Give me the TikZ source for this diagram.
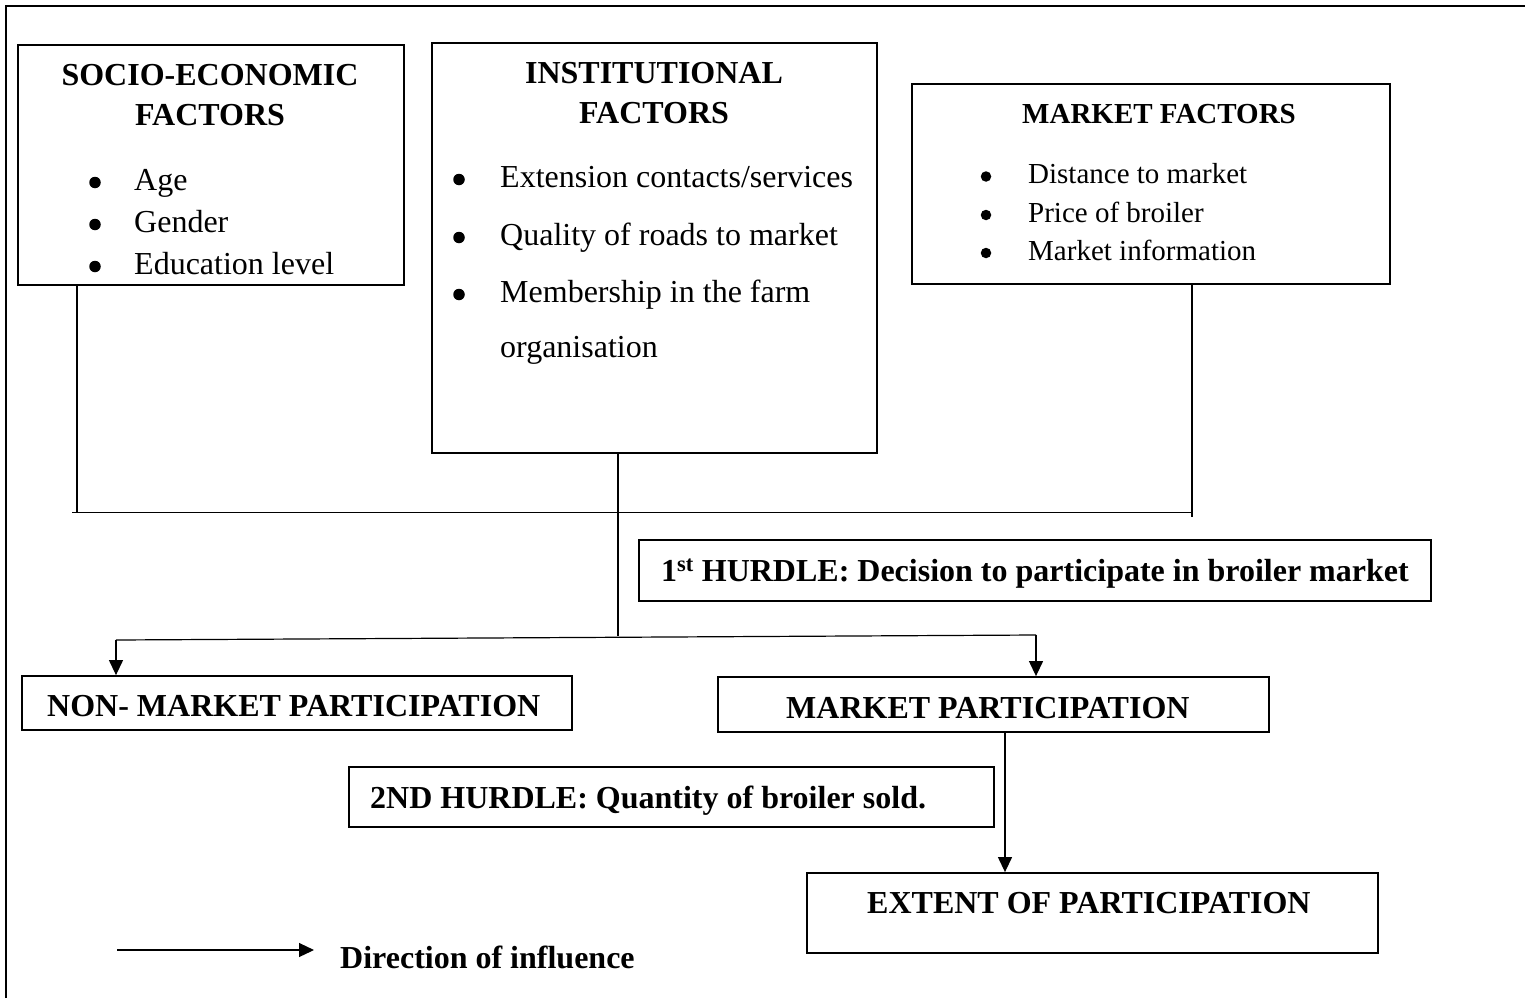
\documentclass[tikz,border=0pt]{standalone}
\usepackage{fontspec}
\setmainfont{Liberation Serif}
\usetikzlibrary{arrows.meta}
\begin{document}
\begin{tikzpicture}[x=1pt,y=-1pt,
  box/.style={draw, line width=1.8pt, rectangle, inner sep=0pt},
  txt/.style={inner sep=0pt, font=\fontsize{32}{38}\selectfont},
  hd/.style={inner sep=0pt, font=\fontsize{32}{38}\selectfont\bfseries, anchor=base},
  smalltxt/.style={inner sep=0pt, font=\fontsize{29}{35}\selectfont},
  dot/.style={circle, fill, inner sep=0pt, minimum size=11.5pt},
  smalldot/.style={circle, fill, inner sep=0pt, minimum size=10.5pt},
  link/.style={line width=1.2pt},
  flow/.style={line width=1.2pt, -{Triangle[length=15pt,width=14pt]}}]
\useasboundingbox (0,0) rectangle (1525,998);

% outer frame: top and left edges only
\coordinate (frameTL) at (6,6);
\coordinate (frameTR) at (1525,6);
\coordinate (frameBL) at (6,998);
\draw[line width=2.4pt] (frameBL) -- (frameTL) -- (frameTR);

% factor boxes
\node[box, minimum width=386pt, minimum height=240pt] (socio) at (211,165) {};
\node[box, minimum width=445pt, minimum height=410pt] (inst) at (654.5,248) {};
\node[box, minimum width=478pt, minimum height=200pt] (market) at (1151,184) {};

% outcome and hurdle boxes
\node[box, minimum width=792pt, minimum height=61pt] (hurdleA) at (1035,570.5) {};
\node[box, minimum width=550pt, minimum height=54pt] (nonmp) at (297,703) {};
\node[box, minimum width=551pt, minimum height=55pt] (mp) at (993.5,704.5) {};
\node[box, minimum width=645pt, minimum height=60pt] (hurdleB) at (671.5,797) {};
\node[box, minimum width=571pt, minimum height=80pt] (extent) at (1092.5,913) {};

% socio-economic factors
\node[hd] (socioH1) at (210,85) {SOCIO-ECONOMIC};
\node[hd] (socioH2) at (210,125) {FACTORS};
\foreach \y/\t [count=\i] in {190/Age, 232/Gender, 274/{Education level}}{
  \node[dot] (socioB\i) at (95,{\y-7.5}) {};
  \node[txt, anchor=base west] (socioT\i) at (134,\y) {\t};
}

% institutional factors
\node[hd] (instH1) at (654,83) {INSTITUTIONAL};
\node[hd] (instH2) at (654,123) {FACTORS};
\foreach \y/\t [count=\i] in {187/{Extension contacts/services}, 245/{Quality of roads to market}, 302/{Membership in the farm}}{
  \node[dot] (instB\i) at (459,{\y-7.5}) {};
  \node[txt, anchor=base west] (instT\i) at (500,\y) {\t};
}
\node[txt, anchor=base west] (instT4) at (500,357) {organisation};

% market factors
\node[smalltxt, font=\fontsize{29}{35}\selectfont\bfseries, anchor=base] (marketH) at (1159,123) {MARKET FACTORS};
\foreach \y/\t [count=\i] in {183.5/{Distance to market}, 222/{Price of broiler}, 260/{Market information}}{
  \node[smalldot] (marketB\i) at (986,{\y-7}) {};
  \node[smalltxt, anchor=base west] (marketT\i) at (1028,\y) {\t};
}

% box labels
\node[hd, anchor=base west] (hurdleAT) at (661,581) {1\textsuperscript{st} HURDLE: Decision to participate in broiler market};
\node[hd, anchor=base west] (nonmpT) at (47,716) {NON- MARKET PARTICIPATION};
\node[hd, anchor=base west] (mpT) at (786,718) {MARKET PARTICIPATION};
\node[hd, anchor=base west] (hurdleBT) at (370,808) {2ND HURDLE: Quantity of broiler sold.};
\node[hd, anchor=base west] (extentT) at (867,913) {EXTENT OF PARTICIPATION};

% joining lines
\coordinate (joinL) at (72,512.5);
\coordinate (joinS) at (77,512.5);
\coordinate (joinM) at (1192,512.5);
\coordinate (joinMend) at (1192,517);
\coordinate (splitI) at (618,635.5);
\coordinate (splitL) at (116,640);
\coordinate (splitR) at (1036,635);

\draw[link] (joinS |- socio.south) -- (joinS);
\draw[link] (joinL) -- (joinM);
\draw[link] (joinM |- market.south) -- (joinMend);
\draw[link] (splitI |- inst.south) -- (splitI);
\draw[link] (splitL) -- (splitR);
\draw[flow] (splitL) -- (splitL |- nonmp.north);
\draw[flow] (splitR) -- (splitR |- mp.north);
\coordinate (mpOut) at (1005,732);
\draw[flow] (mpOut |- mp.south) -- (mpOut |- extent.north);

% legend
\coordinate (legS) at (117,950);
\coordinate (legE) at (314,950);
\draw[flow] (legS) -- (legE);
\node[hd, anchor=base west] (legT) at (340,968) {Direction of influence};
\end{tikzpicture}
\end{document}
